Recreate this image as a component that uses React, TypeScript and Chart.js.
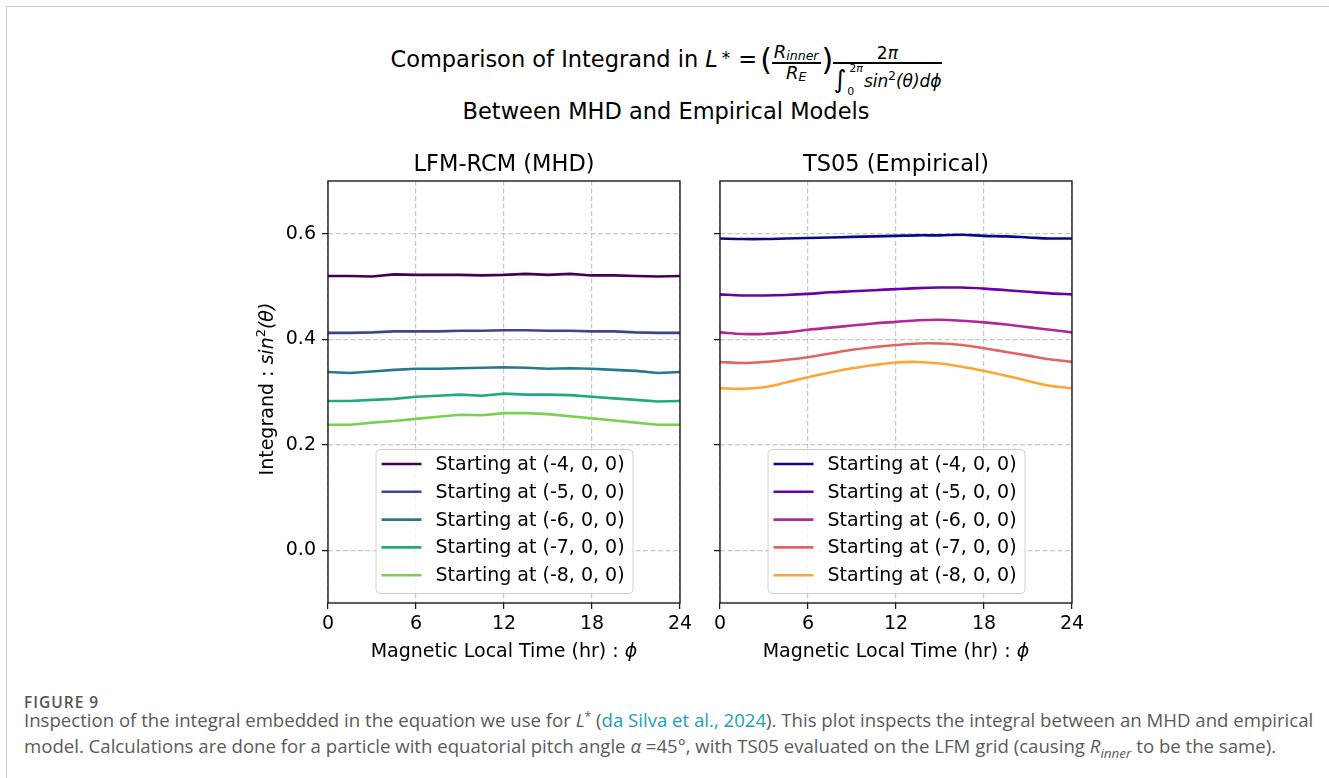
import React, { useEffect, useRef } from "react";
import { Chart, registerables } from "chart.js";

Chart.register(...registerables);

// Magnetic local time samples (hr)
const HOURS = [0, 1.5, 3, 4.5, 6, 7.5, 9, 10.5, 12, 13.5, 15, 16.5, 18, 19.5, 21, 22.5, 24];
const X_TICKS = [0, 6, 12, 18, 24];
const Y_TICKS = [0, 0.2, 0.4, 0.6];
const START_POINTS = [
  "Starting at (-4, 0, 0)",
  "Starting at (-5, 0, 0)",
  "Starting at (-6, 0, 0)",
  "Starting at (-7, 0, 0)",
  "Starting at (-8, 0, 0)",
];

// LFM-RCM (MHD) integrand sin^2(theta)
const MHD_X4 = [0.52, 0.52, 0.519, 0.523, 0.522, 0.522, 0.522, 0.521, 0.522, 0.524, 0.522, 0.524, 0.521, 0.521, 0.52, 0.519, 0.52];
const MHD_X5 = [0.412, 0.412, 0.413, 0.415, 0.415, 0.415, 0.416, 0.416, 0.417, 0.417, 0.416, 0.416, 0.415, 0.415, 0.413, 0.412, 0.412];
const MHD_X6 = [0.338, 0.336, 0.339, 0.342, 0.344, 0.344, 0.345, 0.346, 0.347, 0.346, 0.344, 0.345, 0.344, 0.342, 0.34, 0.336, 0.338];
const MHD_X7 = [0.283, 0.283, 0.285, 0.287, 0.291, 0.293, 0.295, 0.293, 0.297, 0.295, 0.295, 0.294, 0.291, 0.288, 0.285, 0.282, 0.283];
const MHD_X8 = [0.238, 0.238, 0.242, 0.245, 0.249, 0.253, 0.257, 0.256, 0.26, 0.26, 0.258, 0.254, 0.25, 0.246, 0.242, 0.238, 0.238];

// TS05 (Empirical) integrand sin^2(theta)
const TS05_X4 = [0.591, 0.59, 0.59, 0.591, 0.592, 0.593, 0.594, 0.595, 0.596, 0.597, 0.597, 0.598, 0.596, 0.595, 0.593, 0.591, 0.591];
const TS05_X5 = [0.485, 0.483, 0.483, 0.484, 0.486, 0.489, 0.491, 0.493, 0.495, 0.497, 0.498, 0.498, 0.496, 0.493, 0.49, 0.487, 0.485];
const TS05_X6 = [0.413, 0.41, 0.41, 0.413, 0.418, 0.422, 0.426, 0.43, 0.433, 0.436, 0.437, 0.435, 0.432, 0.428, 0.423, 0.418, 0.413];
const TS05_X7 = [0.357, 0.355, 0.357, 0.361, 0.366, 0.373, 0.38, 0.385, 0.389, 0.392, 0.392, 0.389, 0.383, 0.376, 0.369, 0.362, 0.357];
const TS05_X8 = [0.307, 0.306, 0.309, 0.318, 0.328, 0.337, 0.345, 0.351, 0.356, 0.357, 0.354, 0.348, 0.34, 0.331, 0.321, 0.312, 0.307];

const VIRIDIS = ["#440154", "#414487", "#2a788e", "#22a884", "#7ad151"];
const PLASMA = ["#0d0887", "#6a00a8", "#b12a90", "#e16462", "#fca636"];

const FONT = '"DejaVu Sans"';
const GRID = "rgba(176,176,176,0.7)";
const SPINE = "#1a1a1a";

type PanelCfg = {
  title: string;
  series: number[][];
  colors: string[];
  yLabels: boolean;
  smooth: boolean;
};

function drawMixed(ctx: CanvasRenderingContext2D, parts: { t: string; font: string; dy?: number }[], cx: number, y: number) {
  let total = 0;
  const widths = parts.map((p) => {
    ctx.font = p.font;
    const w = ctx.measureText(p.t).width;
    total += w;
    return w;
  });
  let x = cx - total / 2;
  parts.forEach((p, i) => {
    ctx.font = p.font;
    ctx.fillText(p.t, x, y + (p.dy || 0));
    x += widths[i];
  });
}

function makeOverlay(cfg: PanelCfg) {
  return {
    id: "panelOverlay",
    afterDatasetsDraw(chart: any) {
      const { ctx, chartArea: a } = chart;
      ctx.save();
      // axes box
      ctx.strokeStyle = SPINE;
      ctx.lineWidth = 1.4;
      ctx.strokeRect(a.left, a.top, a.right - a.left, a.bottom - a.top);

      // legend, lower centre
      const lw = 257;
      const lh = 144;
      const lx = a.left + (a.right - a.left - lw) / 2;
      const ly = a.bottom - 10 - lh;
      ctx.beginPath();
      ctx.roundRect(lx + 0.5, ly + 0.5, lw, lh, 4);
      ctx.fillStyle = "rgba(255,255,255,0.8)";
      ctx.fill();
      ctx.strokeStyle = "#d0d0d0";
      ctx.lineWidth = 1;
      ctx.stroke();
      ctx.textAlign = "left";
      ctx.textBaseline = "middle";
      ctx.font = `19px ${FONT}`;
      START_POINTS.forEach((label, i) => {
        const y = ly + 15 + i * 27.8;
        ctx.strokeStyle = cfg.colors[i];
        ctx.lineWidth = 2.6;
        ctx.beginPath();
        ctx.moveTo(lx + 6, y);
        ctx.lineTo(lx + 46, y);
        ctx.stroke();
        ctx.fillStyle = "#000";
        ctx.fillText(label, lx + 60, y + 1);
      });

      // subplot title
      ctx.fillStyle = "#000";
      ctx.textAlign = "center";
      ctx.textBaseline = "alphabetic";
      ctx.font = `22.5px ${FONT}`;
      const cx = (a.left + a.right) / 2;
      ctx.fillText(cfg.title, cx, a.top - 10);

      // x axis label
      ctx.textAlign = "left";
      drawMixed(
        ctx,
        [
          { t: "Magnetic Local Time (hr) : ", font: `19px ${FONT}` },
          { t: "\u03d5", font: `italic 19px ${FONT}` },
        ],
        cx,
        a.bottom + 54
      );

      // y axis label
      if (cfg.yLabels) {
        ctx.save();
        ctx.translate(a.left - 55, (a.top + a.bottom) / 2 - 3);
        ctx.rotate(-Math.PI / 2);
        drawMixed(
          ctx,
          [
            { t: "Integrand : ", font: `19px ${FONT}` },
            { t: "sin", font: `italic 19px ${FONT}` },
            { t: "2", font: `13px ${FONT}`, dy: -8 },
            { t: "(\u03b8)", font: `italic 19px ${FONT}` },
          ],
          0,
          0
        );
        ctx.restore();
      }
      ctx.restore();
    },
  };
}

function Panel({ left, width, right, cfg }: { left: number; width: number; right: number; cfg: PanelCfg }) {
  const ref = useRef<HTMLCanvasElement>(null);
  useEffect(() => {
    if (!ref.current) return;
    const yAxisWidth = cfg.yLabels ? 88 : 20;
    const chart = new Chart(ref.current, {
      type: "line",
      data: {
        datasets: cfg.series.map((vals, i) => ({
          label: START_POINTS[i],
          data: HOURS.map((h, j) => ({ x: h, y: vals[j] })),
          borderColor: cfg.colors[i],
          backgroundColor: cfg.colors[i],
          borderWidth: 2.6,
          pointRadius: 0,
          tension: cfg.smooth ? 0.35 : 0,
          fill: false,
        })),
      },
      options: {
        responsive: false,
        animation: false,
        devicePixelRatio: 1,
        layout: { padding: { left: 0, right, top: 41, bottom: 0 } },
        plugins: { legend: { display: false }, tooltip: { enabled: false }, title: { display: false } },
        scales: {
          x: {
            type: "linear",
            min: 0,
            max: 24,
            afterBuildTicks: (s: any) => {
              s.ticks = X_TICKS.map((v) => ({ value: v }));
            },
            afterFit: (s: any) => {
              s.height = 70;
              s.paddingLeft = 0;
              s.paddingRight = 0;
            },
            ticks: {
              font: { family: "DejaVu Sans", size: 19 },
              color: "#000",
              padding: 4,
              maxRotation: 0,
              autoSkip: false,
              callback: (v: any) => String(v),
            },
            grid: { color: GRID, lineWidth: 1.2, tickColor: SPINE, tickLength: 6, tickWidth: 1.3 },
            border: { display: false, dash: [5, 2.5] },
          },
          y: {
            type: "linear",
            min: -0.1,
            max: 0.7,
            afterBuildTicks: (s: any) => {
              s.ticks = Y_TICKS.map((v) => ({ value: v }));
            },
            afterFit: (s: any) => {
              s.width = yAxisWidth;
              s.paddingTop = 0;
              s.paddingBottom = 0;
            },
            ticks: {
              font: { family: "DejaVu Sans", size: 19 },
              color: "#000",
              padding: 6,
              callback: (v: any) => (cfg.yLabels ? Number(v).toFixed(1) : ""),
            },
            grid: { color: GRID, lineWidth: 1.2, tickColor: SPINE, tickLength: 6, tickWidth: 1.3 },
            border: { display: false, dash: [5, 2.5] },
          },
        },
      } as any,
      plugins: [makeOverlay(cfg)],
    });
    return () => chart.destroy();
  }, []);
  return (
    <canvas
      ref={ref}
      width={width}
      height={533}
      style={{ position: "absolute", left, top: 140, width, height: 533 }}
    />
  );
}

const lh = (f: number) => `${(f * 1.164).toFixed(2)}px`;
const mt = (baseline: number, top: number, f: number) => baseline - top - 0.928 * f;

function Frac({ num, den, top, size }: { num: React.ReactNode; den: React.ReactNode; top: number; size: number }) {
  const numBottom = top + size * 1.164;
  return (
    <div style={{ display: "flex", flexDirection: "column", alignItems: "center", marginTop: top }}>
      <div style={{ fontSize: size, lineHeight: lh(size), marginBottom: 62.3 - numBottom, padding: "0 2px" }}>{num}</div>
      <div style={{ alignSelf: "stretch", height: 1.2, background: "#000" }} />
      {den}
    </div>
  );
}

function Title() {
  const F = 22.5;
  const B = 67;
  const base = { fontSize: F, lineHeight: lh(F), marginTop: mt(B, 0, F) };
  const sub = { fontSize: 12.5, lineHeight: 0, verticalAlign: -2, fontStyle: "italic" as const };
  const denTop = 63.5;
  return (
    <>
      <div
        style={{
          position: "absolute",
          left: 0,
          top: 0,
          width: 1329,
          paddingLeft: 3,
          boxSizing: "border-box",
          display: "flex",
          justifyContent: "center",
          alignItems: "flex-start",
          whiteSpace: "pre",
          color: "#000",
        }}
      >
        <div style={{ ...base, marginRight: 7 }}>Comparison of Integrand in</div>
        <div style={{ ...base, fontStyle: "italic" }}>L</div>
        <div style={{ fontSize: 17, lineHeight: lh(17), marginTop: mt(65, 0, 17), marginLeft: 4 }}>*</div>
        <div style={{ ...base, marginLeft: 8, marginRight: 3 }}>=</div>
        <div style={{ fontSize: 30, lineHeight: lh(30), marginTop: mt(71, 0, 30) }}>(</div>
        <Frac
          size={18}
          top={mt(58.8, 0, 18)}
          num={
            <span>
              <i>R</i>
              <span style={sub}>inner</span>
            </span>
          }
          den={
            <div style={{ fontSize: 18, lineHeight: lh(18), marginTop: 80 - denTop - 0.928 * 18, padding: "0 2px" }}>
              <i>R</i>
              <span style={sub}>E</span>
            </div>
          }
        />
        <div style={{ fontSize: 30, lineHeight: lh(30), marginTop: mt(71, 0, 30), marginLeft: 1 }}>)</div>
        <Frac
          size={17}
          top={mt(60, 0, 17)}
          num={
            <span>
              2<i>π</i>
            </span>
          }
          den={
            <div style={{ display: "flex", alignItems: "flex-start" }}>
              <div style={{ fontSize: 25, lineHeight: lh(25), marginTop: mt(88, denTop, 25) }}>∫</div>
              <div style={{ display: "flex", flexDirection: "column", alignItems: "flex-start", marginLeft: 1 }}>
                <div style={{ fontSize: 11, lineHeight: lh(11), marginTop: mt(73, denTop, 11), paddingLeft: 2 }}>
                  2<i>π</i>
                </div>
                <div style={{ fontSize: 11, lineHeight: lh(11), marginTop: 10.2 }}>0</div>
              </div>
              <div style={{ fontSize: 17, lineHeight: lh(17), marginTop: mt(88, denTop, 17), fontStyle: "italic", marginLeft: 1 }}>
                sin<span style={{ fontSize: 12, lineHeight: 0, verticalAlign: 7, fontStyle: "normal" }}>2</span>(θ)dϕ
              </div>
            </div>
          }
        />
      </div>
      <div
        style={{
          position: "absolute",
          left: 0,
          top: mt(119, 0, F),
          width: 1329,
          paddingLeft: 3,
          boxSizing: "border-box",
          textAlign: "center",
          fontSize: F,
          lineHeight: lh(F),
          whiteSpace: "nowrap",
          color: "#000",
        }}
      >
        Between MHD and Empirical Models
      </div>
    </>
  );
}

function Caption() {
  const cap = {
    position: "absolute" as const,
    left: 24,
    fontFamily: '"Open Sans"',
    fontSize: 18.6,
    lineHeight: "26px",
    color: "#5a5a5a",
    whiteSpace: "nowrap" as const,
  };
  const link = { color: "#1a9fb5" };
  return (
    <>
      <div
        style={{
          position: "absolute",
          left: 24,
          top: 691.5,
          fontFamily: '"Open Sans"',
          fontSize: 15.5,
          fontWeight: 600,
          letterSpacing: 1,
          lineHeight: "21px",
          color: "#555",
        }}
      >
        FIGURE 9
      </div>
      <div style={{ ...cap, top: 707 }}>
        Inspection of the integral embedded in the equation we use for <i>L</i>
        <span style={{ fontSize: 12, lineHeight: 0, verticalAlign: 6 }}>*</span> (<span style={link}>da Silva et al., 2024</span>). This
        plot inspects the integral between an MHD and empirical
      </div>
      <div style={{ ...cap, top: 733 }}>
        model. Calculations are done for a particle with equatorial pitch angle <i>α</i> =45°, with TS05 evaluated on the LFM grid (causing{" "}
        <i>R</i>
        <i style={{ fontSize: 13.5, lineHeight: 0, verticalAlign: -5 }}>inner</i> to be the same).
      </div>
    </>
  );
}

export default function App() {
  const mhd: PanelCfg = {
    title: "LFM-RCM (MHD)",
    series: [MHD_X4, MHD_X5, MHD_X6, MHD_X7, MHD_X8],
    colors: VIRIDIS,
    yLabels: true,
    smooth: false,
  };
  const ts05: PanelCfg = {
    title: "TS05 (Empirical)",
    series: [TS05_X4, TS05_X5, TS05_X6, TS05_X7, TS05_X8],
    colors: PLASMA,
    yLabels: false,
    smooth: true,
  };
  return (
    <div
      style={{
        position: "fixed",
        left: 0,
        top: 0,
        width: 1329,
        height: 778,
        background: "#fff",
        overflow: "hidden",
        fontFamily: FONT,
      }}
    >
      <div
        style={{
          position: "absolute",
          left: 6,
          top: 6,
          width: 1400,
          height: 800,
          borderLeft: "1.5px solid #cccccc",
          borderTop: "1.5px solid #cccccc",
        }}
      />
      <Title />
      <Panel left={240} width={460} right={20} cfg={mhd} />
      <Panel left={700} width={400} right={28} cfg={ts05} />
      <Caption />
    </div>
  );
}
